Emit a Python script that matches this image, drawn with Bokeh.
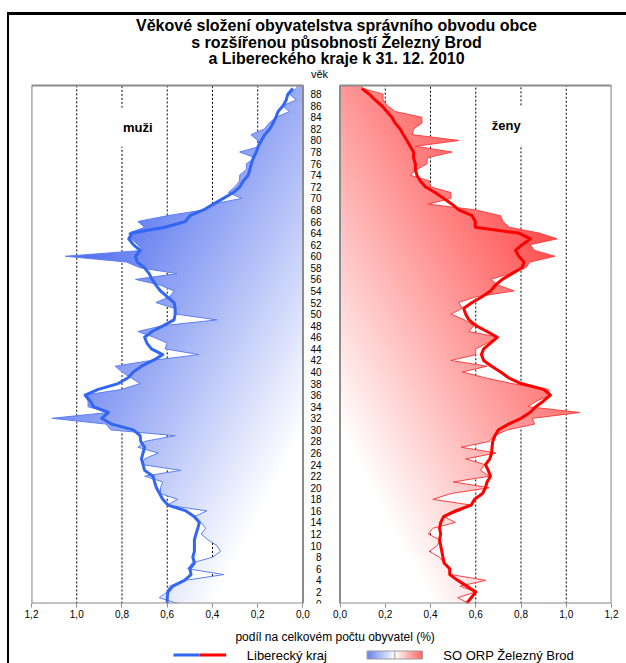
import numpy as np
from bokeh.plotting import figure
from bokeh.layouts import column
from bokeh.models import Range1d, FixedTicker, CustomJSTickFormatter
from bokeh.core.properties import value
from bokeh.embed import file_html
from bokeh.resources import INLINE

# ---------------- data ----------------
ages = list(range(90))

men_kraj = [0.60, 0.60, 0.597, 0.575, 0.524, 0.495, 0.50, 0.48, 0.487, 0.48,
            0.48, 0.48, 0.473, 0.465, 0.458, 0.48, 0.517, 0.597, 0.62, 0.634,
            0.648, 0.656, 0.663, 0.70, 0.707, 0.714, 0.707, 0.70, 0.717, 0.72,
            0.75, 0.846, 0.89, 0.86, 0.926, 0.94, 0.963, 0.905, 0.817, 0.773,
            0.75, 0.714, 0.663, 0.62, 0.67, 0.69, 0.70, 0.667, 0.617, 0.57,
            0.565, 0.565, 0.57, 0.60, 0.63, 0.65, 0.667, 0.68, 0.70, 0.733,
            0.74, 0.72, 0.75, 0.77, 0.755, 0.61, 0.52, 0.50, 0.44, 0.396,
            0.352, 0.308, 0.279, 0.264, 0.242, 0.235, 0.228, 0.22, 0.206, 0.198,
            0.184, 0.169, 0.147, 0.132, 0.12, 0.11, 0.088, 0.074, 0.067, 0.045]

men_zb = [0.555, 0.635, 0.60, 0.59, 0.52, 0.35, 0.51, 0.49, 0.40, 0.365,
          0.38, 0.42, 0.45, 0.43, 0.45, 0.48, 0.425, 0.60, 0.555, 0.63,
          0.63, 0.62, 0.70, 0.54, 0.71, 0.70, 0.64, 0.73, 0.70, 0.565,
          0.85, 0.87, 1.11, 0.86, 0.95, 0.95, 0.965, 0.80, 0.72, 0.76,
          0.80, 0.83, 0.67, 0.46, 0.61, 0.60, 0.66, 0.73, 0.62, 0.38,
          0.56, 0.57, 0.65, 0.59, 0.57, 0.63, 0.74, 0.557, 0.72, 0.78,
          1.05, 0.71, 0.73, 0.76, 0.77, 0.70, 0.73, 0.60, 0.44, 0.40,
          0.27, 0.33, 0.30, 0.28, 0.28, 0.25, 0.25, 0.21, 0.28, 0.19,
          0.20, 0.23, 0.17, 0.15, 0.12, 0.06, 0.09, 0.03, 0.06, 0.03]

women_kraj = [0.56, 0.58, 0.60, 0.56, 0.52, 0.485, 0.485, 0.46, 0.455, 0.45,
              0.445, 0.44, 0.445, 0.44, 0.445, 0.458, 0.51, 0.58, 0.595, 0.63,
              0.643, 0.65, 0.665, 0.655, 0.643, 0.662, 0.67, 0.672, 0.675, 0.685,
              0.70, 0.745, 0.80, 0.84, 0.865, 0.90, 0.93, 0.90, 0.80, 0.745,
              0.71, 0.67, 0.635, 0.625, 0.635, 0.665, 0.695, 0.65, 0.60, 0.57,
              0.555, 0.547, 0.584, 0.628, 0.665, 0.687, 0.717, 0.76, 0.805, 0.813,
              0.79, 0.776, 0.805, 0.842, 0.79, 0.598, 0.598, 0.584, 0.525, 0.495,
              0.458, 0.42, 0.377, 0.355, 0.34, 0.333, 0.333, 0.325, 0.325, 0.31,
              0.296, 0.28, 0.266, 0.244, 0.229, 0.207, 0.185, 0.155, 0.13, 0.096]

women_zb = [0.57, 0.52, 0.60, 0.53, 0.645, 0.49, 0.48, 0.46, 0.44, 0.395,
            0.43, 0.44, 0.39, 0.41, 0.51, 0.46, 0.53, 0.58, 0.41, 0.49,
            0.66, 0.50, 0.66, 0.62, 0.64, 0.555, 0.69, 0.535, 0.66, 0.68,
            0.74, 0.86, 0.85, 1.06, 0.83, 0.87, 0.93, 0.92, 0.76, 0.64,
            0.54, 0.65, 0.49, 0.60, 0.60, 0.65, 0.70, 0.57, 0.59, 0.55,
            0.49, 0.54, 0.525, 0.60, 0.77, 0.70, 0.665, 0.75, 0.82, 0.84,
            0.95, 0.86, 0.84, 0.96, 0.88, 0.75, 0.72, 0.71, 0.60, 0.39,
            0.49, 0.49, 0.40, 0.395, 0.31, 0.34, 0.385, 0.385, 0.495, 0.333,
            0.525, 0.32, 0.325, 0.362, 0.362, 0.244, 0.21, 0.19, 0.19, 0.10]

x_tick_values = [0.0, 0.2, 0.4, 0.6, 0.8, 1.0, 1.2]
age_tick_values = list(range(0, 89, 2))

title_lines = ["Věkové složení obyvatelstva správního obvodu obce",
               "s rozšířenou působností Železný Brod",
               "a Libereckého kraje k 31. 12. 2010"]
age_label = "věk"
men_label = "muži"
women_label = "ženy"
x_label = "podíl na celkovém počtu obyvatel (%)"
series_kraj = "Liberecký kraj"
series_orp = "SO ORP Železný Brod"

# ---------------- styling / geometry ----------------
FONT = "Liberation Sans"
XMAX = 1.2
GAP = 0.0818
YTOP = 89.5
FRAME_W, FRAME_H = 580, 518
PX_X = FRAME_W / (2 * (XMAX + GAP))
PX_Y = FRAME_H / YTOP
TOP_PAD = 70
Y_END = YTOP + TOP_PAD / PX_Y

BLUE_LINE = "#3366f2"
BLUE_EDGE = "#5b7ff2"
RED_LINE = "#ff0000"
RED_EDGE = "#ff4040"
BLUE_DARK = (50, 85, 235)
RED_DARK = (255, 40, 40)
BOX_COLOR = "#8c8c8c"

p = figure(width=617, height=613,
           x_range=Range1d(-(XMAX + GAP), XMAX + GAP), y_range=Range1d(0, Y_END),
           output_backend="svg", toolbar_location=None, title=None,
           min_border_left=22, min_border_right=15, min_border_top=0, min_border_bottom=25)
p.xgrid.visible = False
p.ygrid.visible = False
p.outline_line_color = None
p.background_fill_color = "white"
p.border_fill_color = "white"


def to_u(vals, side):
    return [side * (v + GAP) for v in vals]


def gradient(side, dark):
    nx, ny = 272, 518
    frac = (np.arange(nx) + 0.5) / nx
    val = XMAX * (1 - frac) if side < 0 else XMAX * frac
    yy = (np.arange(ny) + 0.5) / ny * YTOP
    xn = (XMAX - val) / XMAX
    yn = (YTOP - yy) / YTOP
    t = np.clip(0.72 * (xn[None, :] + yn[:, None]) - 0.2, 0, 1)
    img = np.empty((ny, nx), dtype=np.uint32)
    view = img.view(np.uint8).reshape(ny, nx, 4)
    for k in range(3):
        view[:, :, k] = np.round(dark[k] + (255 - dark[k]) * t).astype(np.uint8)
    view[:, :, 3] = 255
    return img


# gradient fills of the SO ORP areas (continued flat up to the top border)
p.image_rgba(image=[gradient(-1, BLUE_DARK)], x=-(XMAX + GAP), y=0, dw=XMAX, dh=YTOP)
p.image_rgba(image=[gradient(1, RED_DARK)], x=GAP, y=0, dw=XMAX, dh=YTOP)
cover_y = ages + [YTOP]
p.harea(x1=to_u(men_zb + [men_zb[-1]], -1), x2=[-(XMAX + GAP)] * len(cover_y), y=cover_y,
        fill_color="white")
p.harea(x1=to_u(women_zb + [women_zb[-1]], 1), x2=[XMAX + GAP] * len(cover_y), y=cover_y,
        fill_color="white")


# dotted gridlines, visible only outside the filled areas
def grid_segments(edge, side):
    ys = np.linspace(0, YTOP, 1791)
    e = np.interp(ys, ages, edge)
    xs_l, ys_l = [], []
    for gv in x_tick_values[1:-1]:
        vis = e < gv
        d = np.diff(np.concatenate([[0], vis.astype(int), [0]]))
        starts = np.flatnonzero(d == 1)
        ends = np.flatnonzero(d == -1)
        for s, t in zip(starts, ends):
            u = side * (gv + GAP)
            xs_l.append([u, u])
            ys_l.append([float(ys[s]), float(ys[t - 1])])
    return xs_l, ys_l


for edge, side in ((men_zb, -1), (women_zb, 1)):
    gx, gy = grid_segments(edge, side)
    p.multi_line(xs=gx, ys=gy, line_color="black", line_width=1, line_dash="2 2")

# area edges and Liberecký kraj lines
p.line(to_u(men_zb, -1), ages, line_color=BLUE_EDGE, line_width=1)
p.line(to_u(women_zb, 1), ages, line_color=RED_EDGE, line_width=1)
p.line(to_u(men_kraj, -1), ages, line_color=BLUE_LINE, line_width=3, line_join="round")
p.line(to_u(women_kraj, 1), ages, line_color=RED_LINE, line_width=3, line_join="round")

# panel labels
p.text(x=[-(0.73 + GAP), 0.735 + GAP], y=[82.3, 82.6], text=[men_label, women_label],
       text_font=value(FONT), text_font_size="13px", text_font_style="bold",
       text_align="center", text_baseline="middle", text_color="black",
       background_fill_color="white", padding=12)

# panel boxes
p.quad(left=[-(XMAX + GAP), GAP], right=[-GAP, XMAX + GAP], bottom=[0, 0], top=[YTOP, YTOP],
       fill_color=None, line_color=BOX_COLOR, line_width=2)

# title lines and "věk" (pixel offsets below the top of the canvas)
title_offsets = [10, 26.5, 43]
p.text(x=[(336 - 321) / PX_X] * 3, y=[Y_END - o / PX_Y for o in title_offsets], text=title_lines,
       text_font=value(FONT), text_font_size="16px", text_font_style="bold",
       text_align="center", text_baseline="middle", text_color="black")
p.text(x=[(319 - 321) / PX_X], y=[Y_END - 58 / PX_Y], text=[age_label],
       text_font=value(FONT), text_font_size="11px",
       text_align="center", text_baseline="middle", text_color="black")

# axes
p.xaxis.ticker = FixedTicker(ticks=sorted(to_u(x_tick_values, -1) + to_u(x_tick_values, 1)))
p.xaxis.formatter = CustomJSTickFormatter(args=dict(gap=GAP), code="""
    const v = Math.abs(Math.abs(tick) - gap);
    return v.toFixed(1).replace('.', ',');
""")
p.xaxis.axis_line_color = None
p.xaxis.major_tick_line_color = BOX_COLOR
p.xaxis.major_tick_line_width = 1
p.xaxis.major_tick_out = 4
p.xaxis.major_tick_in = 0
p.xaxis.minor_tick_line_color = None
p.xaxis.major_label_standoff = 2
p.xaxis.major_label_text_font = FONT
p.xaxis.major_label_text_font_size = "10px"
p.xaxis.major_label_text_color = "black"

p.yaxis.ticker = FixedTicker(ticks=age_tick_values)
p.yaxis.fixed_location = 3 / PX_X
p.yaxis.axis_line_color = None
p.yaxis.major_tick_line_color = None
p.yaxis.minor_tick_line_color = None
p.yaxis.major_tick_out = 0
p.yaxis.major_tick_in = 0
p.yaxis.major_label_standoff = 3
p.yaxis.major_label_text_font = FONT
p.yaxis.major_label_text_font_size = "10px"
p.yaxis.major_label_text_color = "black"

# ---------------- axis title + legend strip ----------------
LW, LH = 617, 35
lg = figure(width=LW, height=LH, x_range=Range1d(0, LW), y_range=Range1d(0, LH),
            output_backend="svg", toolbar_location=None, title=None,
            x_axis_type=None, y_axis_type=None,
            min_border_left=0, min_border_right=0, min_border_top=0, min_border_bottom=0)
lg.xgrid.visible = False
lg.ygrid.visible = False
lg.outline_line_color = None
lg.background_fill_color = "white"
lg.border_fill_color = "white"

lg.text(x=[323], y=[27], text=[x_label], text_font=value(FONT), text_font_size="12px",
        text_align="center", text_baseline="middle", text_color="black")

LEG_Y = 8.5
lg.segment(x0=[151, 179], y0=[LEG_Y, LEG_Y], x1=[179, 207], y1=[LEG_Y, LEG_Y],
           line_color=[BLUE_LINE, RED_LINE], line_width=3)
lg.text(x=[229, 438], y=[LEG_Y, LEG_Y], text=[series_kraj, series_orp],
        text_font=value(FONT), text_font_size="13px",
        text_align="left", text_baseline="middle", text_color="black")

# legend gradient swatch
n_sw = 59
sw = np.empty((1, n_sw), dtype=np.uint32)
swv = sw.view(np.uint8).reshape(1, n_sw, 4)
for j in range(n_sw):
    c = (j + 0.5) / n_sw
    if c < 0.5:
        s = c / 0.5
        base, tgt = (105, 130, 240), (255, 255, 255)
    else:
        s = (c - 0.5) / 0.5
        base, tgt = (255, 255, 255), (255, 95, 95)
    for k in range(3):
        swv[0, j, k] = int(round(base[k] + (tgt[k] - base[k]) * s))
    swv[0, j, 3] = 255
lg.image_rgba(image=[sw], x=357, y=LEG_Y - 4, dw=59, dh=8)
lg.quad(left=[357], right=[416], bottom=[LEG_Y - 4], top=[LEG_Y + 4],
        fill_color=None, line_color="#9a9a9a", line_width=1)
lg.segment(x0=[386.5], y0=[LEG_Y - 4], x1=[386.5], y1=[LEG_Y + 4],
           line_color="#9a9a9a", line_width=1)

layout = column(p, lg, styles={"margin-left": "7px", "margin-top": "12px",
                               "border-left": "2px solid black",
                               "border-top": "3px solid black"})

open("out.html", "w").write(file_html(layout, INLINE))
